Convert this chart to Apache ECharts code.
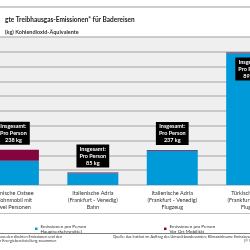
<!DOCTYPE html>
<html>
<head>
<meta charset="utf-8">
<script src="https://cdn.jsdelivr.net/npm/echarts@6/dist/echarts.min.js"></script>
<style>
  html, body { margin: 0; padding: 0; background: #fff; }
  #chart { width: 250px; height: 250px; }
</style>
</head>
<body>
<div id="chart"></div>
<script>
var categories = [
  'Dänische Ostsee\nWohnmobil mit\nzwei Personen',
  'Italienische Adria\n(Frankfurt - Venedig)\nBahn',
  'Italienische Adria\n(Frankfurt - Venedig)\nFlugzeug',
  'Türkische Riviera\n(Frankfurt - Antalya)\nFlugzeug'
];
// kg CO2-Äquivalente pro Person
var mainTransport = [164, 80, 231, 890];
var localMobility = [74, 5, 6, 6];
var yTicks = { min: 0, max: 1000, interval: 100 };

var font = '"Liberation Sans Narrow", Lato, sans-serif';
var chart = echarts.init(document.getElementById('chart'));

var labelStyle = {
  show: true,
  position: 'top',
  distance: 5,
  formatter: function (p) {
    var total = mainTransport[p.dataIndex] + localMobility[p.dataIndex];
    return 'Insgesamt:\nPro Person\n' + total + ' kg';
  },
  backgroundColor: '#000',
  color: '#fff',
  fontFamily: font,
  fontWeight: 'bold',
  fontSize: 5.5,
  lineHeight: 7,
  padding: [1, 3, 1, 3],
  align: 'center'
};

var localData = localMobility.map(function (v, i) {
  if (i === 3) {
    return { value: v, label: { position: 'insideTop', distance: 5 } };
  }
  return v;
});

var option = {
  animation: false,
  title: [
    {
      text: 'gte Treibhausgas-Emissionen* für Badereisen',
      left: 0, top: 11,
      textStyle: { fontFamily: font, fontSize: 6.5, fontWeight: 'bold', color: '#222' }
    },
    {
      text: '(kg) Kohlendioxid-Äquivalente',
      left: 0, top: 24.5,
      textStyle: { fontFamily: font, fontSize: 5.5, fontWeight: 'bold', color: '#333' }
    }
  ],
  legend: [
    {
      data: ['Hauptverkehrsmittel'],
      left: 30, top: 219,
      icon: 'rect', itemWidth: 2.5, itemHeight: 2.5, itemGap: 2,
      formatter: function () { return 'Emissionen pro Person\nHauptverkehrsmittel'; },
      textStyle: { fontFamily: font, fontSize: 4.6, lineHeight: 4.6, color: '#333', padding: [0, 0, 0, -2] }
    },
    {
      data: ['Vor Ort Mobilität'],
      left: 159, top: 219,
      icon: 'rect', itemWidth: 2.5, itemHeight: 2.5, itemGap: 2,
      formatter: function () { return 'Emissionen pro Person\nVor Ort Mobilität'; },
      textStyle: { fontFamily: font, fontSize: 4.6, lineHeight: 4.6, color: '#333', padding: [0, 0, 0, -2] }
    }
  ],
  grid: {
    left: -26.3, right: -41.4, top: 37, bottom: 65,
    outerBoundsMode: 'none',
    containLabel: false,
    show: true, backgroundColor: '#efefef', borderWidth: 0
  },
  xAxis: {
    type: 'category',
    data: categories,
    axisLine: { show: false },
    axisTick: { show: false },
    axisLabel: {
      interval: 0, margin: 5,
      fontFamily: font, fontSize: 5.5, lineHeight: 7, color: '#333'
    }
  },
  yAxis: {
    type: 'value',
    min: yTicks.min, max: yTicks.max, interval: yTicks.interval,
    axisLabel: { show: false },
    axisLine: { show: false },
    axisTick: { show: false },
    splitLine: { lineStyle: { color: '#bdbdbd', width: 1.5 } }
  },
  series: [
    {
      name: 'Hauptverkehrsmittel',
      type: 'bar',
      stack: 'total',
      barWidth: 51,
      color: '#009ad8',
      data: mainTransport
    },
    {
      name: 'Vor Ort Mobilität',
      type: 'bar',
      stack: 'total',
      barWidth: 51,
      color: '#84053d',
      label: labelStyle,
      data: localData
    }
  ],
  graphic: [
    { type: 'line', shape: { x1: 0, y1: 7, x2: 250, y2: 7 }, style: { stroke: '#a0a0a0', lineWidth: 1.2 } },
    { type: 'line', shape: { x1: 0, y1: 213.5, x2: 250, y2: 213.5 }, style: { stroke: '#c0c0c0', lineWidth: 1 } },
    { type: 'line', shape: { x1: 0, y1: 233.5, x2: 250, y2: 233.5 }, style: { stroke: '#808080', lineWidth: 1 } },
    { type: 'text', left: 0, top: 235, style: { text: 'aus den direkten Emissionen und den\nr Energiebereitstellung zusammen', font: '3.8px ' + font, fill: '#333', lineHeight: 4 } },
    { type: 'text', left: 113, top: 235, style: { text: 'Quelle: das Institut im Auftrag des Umweltbundesamtes; Klimawirksame Emissionen des', font: '3.8px ' + font, fill: '#333' } },
    { type: 'text', left: 244, top: 239, style: { text: '(© Umweltbundesamt', font: '3.8px ' + font, fill: '#333' } }
  ]
};

chart.setOption(option);
</script>
</body>
</html>
